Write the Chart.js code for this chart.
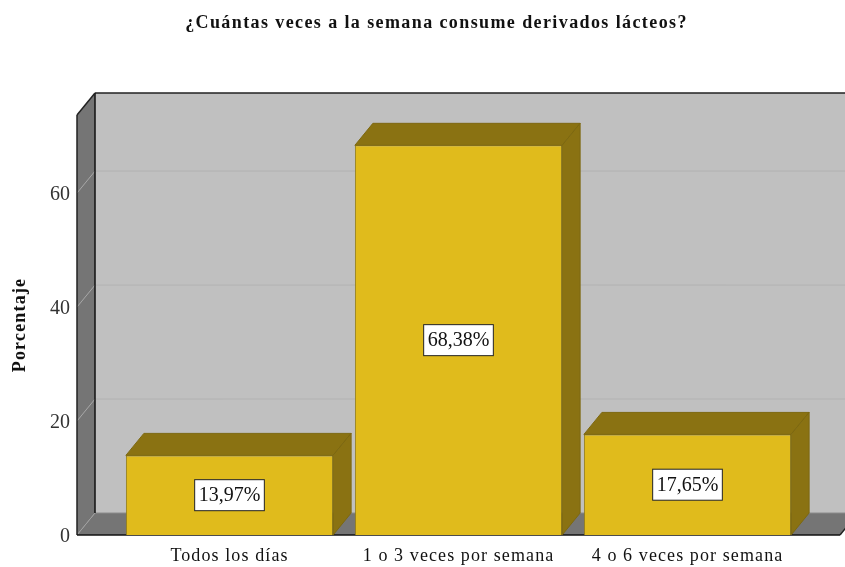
<!DOCTYPE html>
<html><head><meta charset="utf-8">
<style>html,body{margin:0;padding:0;background:#fff;overflow:hidden}canvas{display:block}</style>
<script src="https://cdn.jsdelivr.net/npm/chart.js@4"></script>
</head><body><canvas id="c" width="845" height="567" style="width:845px;height:567px"></canvas>
<script>
const categories = ["Todos los días", "1 o 3 veces por semana", "4 o 6 veces por semana"];
const percentages = [13.97, 68.38, 17.65];
const yTicks = [0, 20, 40, 60];
const chartTitle = "¿Cuántas veces a la semana consume derivados lácteos?";
const yTitle = "Porcentaje";

const SERIF = "'Liberation Serif'";
const DX = 18, DY = 22, SIDE = 38;
const WALL = "#c0c0c0", SHADE = "#757575", BAR = "#e0bb1c", BARDARK = "#8a7212";

function poly(ctx, pts, fill, stroke) {
  ctx.beginPath();
  pts.forEach((p, i) => i ? ctx.lineTo(p[0], p[1]) : ctx.moveTo(p[0], p[1]));
  ctx.closePath();
  ctx.fillStyle = fill; ctx.fill();
  if (stroke) { ctx.strokeStyle = stroke; ctx.lineWidth = 1; ctx.stroke(); }
}
function line(ctx, x1, y1, x2, y2, color, w) {
  ctx.beginPath(); ctx.moveTo(x1, y1); ctx.lineTo(x2, y2);
  ctx.strokeStyle = color; ctx.lineWidth = w; ctx.stroke();
}
function spaced(obj, method, ctx, amount, dx, dy) {
  const orig = obj[method];
  if (orig.__spaced) return;
  obj[method] = function (...args) {
    ctx.save();
    ctx.translate(dx || 0, dy || 0);
    ctx.letterSpacing = amount;
    const r = orig.apply(this, args);
    ctx.restore();
    return r;
  };
  obj[method].__spaced = true;
}

const box3d = {
  id: "box3d",
  afterLayout(chart) {
    const ctx = chart.ctx;
    chart.titleBlock.left = 28;
    chart.titleBlock.right = 845;
    spaced(chart.titleBlock, "draw", ctx, "1.4px");
    spaced(chart.scales.y, "drawTitle", ctx, "1.2px", 1, 0);
    spaced(chart.scales.y, "drawLabels", ctx, "0px", 0, 2);
    spaced(chart.scales.x, "drawLabels", ctx, "1.1px");
  },
  beforeDatasetsDraw(chart) {
    const { ctx, chartArea: a, scales: { y } } = chart;
    const L = a.left - SIDE, R = a.right + SIDE, T = a.top, B = a.bottom;
    ctx.save();
    poly(ctx, [[L + DX, T - DY], [R + DX, T - DY], [R + DX, B - DY], [L + DX, B - DY]], WALL);
    poly(ctx, [[L, T], [L + DX, T - DY], [L + DX, B - DY], [L, B]], SHADE);
    poly(ctx, [[L, B], [L + DX, B - DY], [R + DX, B - DY], [R, B]], SHADE);
    yTicks.forEach(v => {
      if (!v) return;
      const py = y.getPixelForValue(v);
      line(ctx, L + DX, py - DY, R + DX, py - DY, "#b2b2b2", 1);
      line(ctx, L, py, L + DX, py - DY, "#a8a8a8", 1);
    });
    line(ctx, L, B, L + DX, B - DY, "#a0a0a0", 1);
    line(ctx, L + DX, B - DY, R + DX, B - DY, "#8c8c8c", 1);
    line(ctx, L + DX, T - DY, R + DX, T - DY, "#222", 1.5);
    line(ctx, L + DX, T - DY, L + DX, B - DY, "#111", 1.5);
    line(ctx, L, T, L + DX, T - DY, "#222", 1.5);
    line(ctx, L, T, L, B, "#222", 1.5);
    line(ctx, L, B, R, B, "#111", 1.5);
    line(ctx, R, B, R + DX, B - DY, "#222", 1.5);
    ctx.restore();
  },
  afterDatasetsDraw(chart) {
    const { ctx } = chart;
    const meta = chart.getDatasetMeta(0);
    ctx.save();
    meta.data.forEach((el, i) => {
      const { x, y, base, width } = el.getProps(["x", "y", "base", "width"], true);
      const l = x - width / 2, r = x + width / 2;
      poly(ctx, [[l, y], [l + DX, y - DY], [r + DX, y - DY], [r, y]], BARDARK, "#7d6810");
      poly(ctx, [[r, y], [r + DX, y - DY], [r + DX, base - DY], [r, base]], BARDARK, "#7d6810");
      const text = percentages[i].toFixed(2).replace(".", ",") + "%";
      ctx.font = "20px " + SERIF;
      const tw = ctx.measureText(text).width;
      const bw = tw + 8, bh = 31, cy = (y + base) / 2;
      ctx.fillStyle = "#fff"; ctx.fillRect(x - bw / 2, cy - bh / 2, bw, bh);
      ctx.strokeStyle = "#222"; ctx.lineWidth = 1; ctx.strokeRect(x - bw / 2, cy - bh / 2, bw, bh);
      ctx.fillStyle = "#111"; ctx.textAlign = "center"; ctx.textBaseline = "middle";
      ctx.fillText(text, x, cy + 1);
    });
    ctx.restore();
  }
};

new Chart(document.getElementById("c"), {
  type: "bar",
  plugins: [box3d],
  data: {
    labels: categories,
    datasets: [{
      data: percentages, backgroundColor: BAR, borderColor: "#8f7a18", borderWidth: 1,
      barPercentage: 0.905, categoryPercentage: 1
    }]
  },
  options: {
    responsive: false, animation: false, devicePixelRatio: 1,
    layout: { padding: { left: 0, top: 0, right: 43, bottom: 0 } },
    plugins: {
      legend: { display: false }, tooltip: { enabled: false },
      title: {
        display: true, text: chartTitle, color: "#111",
        font: { family: SERIF, size: 18, weight: "bold" },
        padding: { top: 13, bottom: 80.4 }
      }
    },
    scales: {
      x: {
        grid: { display: false, drawTicks: false }, border: { display: false },
        afterFit(s) { s.height = 32; },
        ticks: { color: "#111", font: { family: SERIF, size: 18 }, padding: 10, maxRotation: 0 }
      },
      y: {
        min: 0, max: 73.7,
        afterFit(s) { s.width = 115; s.paddingTop = 0; s.paddingBottom = 0; },
        afterBuildTicks(s) { s.ticks = yTicks.map(v => ({ value: v })); },
        grid: { display: false, drawTicks: false }, border: { display: false },
        ticks: { color: "#333", font: { family: SERIF, size: 20 }, padding: 45 },
        title: {
          display: true, text: yTitle, color: "#111",
          font: { family: SERIF, size: 18, weight: "bold" }, padding: { top: 9, bottom: 0 }
        }
      }
    }
  }
});
</script></body></html>
